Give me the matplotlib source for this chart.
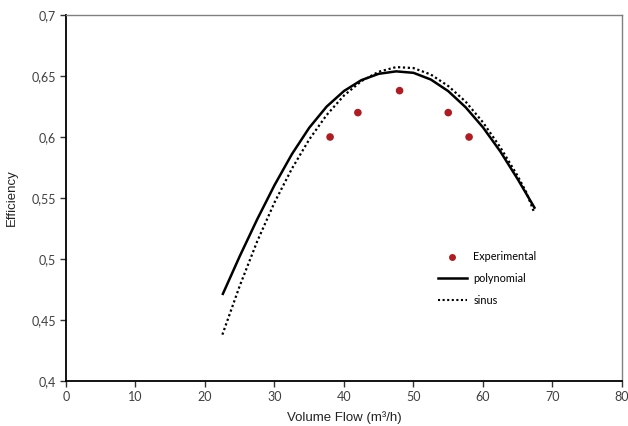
import matplotlib
matplotlib.use("Agg")
import matplotlib.pyplot as plt
from matplotlib.lines import Line2D
from matplotlib.ticker import FuncFormatter, MultipleLocator

# experimental points
exp_flow = [38.0, 42.0, 48.0, 55.0, 58.0]
exp_eff = [0.600, 0.620, 0.638, 0.620, 0.600]

# polynomial fit
poly_flow = [22.5, 25.0, 27.5, 30.0, 32.5, 35.0, 37.5, 40.0, 42.5, 45.0, 47.5,
             50.0, 52.5, 55.0, 57.5, 60.0, 62.5, 65.0, 67.5]
poly_eff = [0.4705, 0.5023, 0.5324, 0.5605, 0.5859, 0.6076, 0.6249, 0.6377, 0.6466, 0.6518, 0.6538,
            0.6526, 0.6471, 0.6376, 0.6244, 0.6079, 0.5881, 0.5654, 0.5412]

# sinus fit
sin_flow = [22.5, 25.0, 27.5, 30.0, 32.5, 35.0, 37.5, 40.0, 42.5, 45.0, 47.5,
            50.0, 52.5, 55.0, 57.5, 60.0, 62.5, 65.0, 66.25, 67.4]
sin_eff = [0.4380, 0.4780, 0.5143, 0.5463, 0.5740, 0.5980, 0.6180, 0.6340, 0.6458, 0.6535, 0.6573,
           0.6565, 0.6512, 0.6418, 0.6290, 0.6120, 0.5915, 0.5680, 0.5545, 0.5376]

fig = plt.figure(figsize=(6.28, 4.26), dpi=100)
ax = fig.add_axes([0.1051, 0.1056, 0.8853, 0.8592])

ax.plot(poly_flow, poly_eff, color="black", lw=1.8, solid_capstyle="butt", solid_joinstyle="round")
ax.plot(sin_flow, sin_eff, color="black", lw=1.6, linestyle=(0, (1, 1.2)))
ax.scatter(exp_flow, exp_eff, s=30, color="#b01c22", zorder=3, edgecolors="none")

ax.set_xlim(0, 80)
ax.set_ylim(0.4, 0.7)
ax.xaxis.set_major_locator(MultipleLocator(10))
ax.yaxis.set_major_locator(MultipleLocator(0.05))
ax.yaxis.set_major_formatter(FuncFormatter(lambda v, p: f"{v:g}".replace(".", ",")))

for s in ["left", "bottom"]:
    ax.spines[s].set_color("black")
    ax.spines[s].set_linewidth(1.3)
for s in ["top", "right"]:
    ax.spines[s].set_color("#808080")
    ax.spines[s].set_linewidth(1.0)

ax.tick_params(direction="out", length=4, width=1, color="#333333", labelcolor="#404040",
               labelsize=9, pad=3)
for lab in ax.get_xticklabels() + ax.get_yticklabels():
    lab.set_fontfamily("Lato")

ax.set_xlabel("Volume Flow (m³/h)", fontsize=9.5, family="Liberation Sans", labelpad=6,
              color="#222222")
ax.set_ylabel("Efficiency", fontsize=9.5, family="Liberation Sans", labelpad=10,
              color="#222222")

handles = [
    Line2D([], [], color="#b01c22", marker="o", markersize=5, lw=0, markeredgewidth=0),
    Line2D([], [], color="black", lw=1.8),
    Line2D([], [], color="black", lw=1.5, linestyle=(0, (1, 1.2))),
]
ax.legend(handles, ["Experimental", "polynomial", "sinus"], loc="center left",
          bbox_to_anchor=(0.6685, 0.2795), frameon=False, borderpad=0, borderaxespad=0,
          handlelength=2.7, handletextpad=0.6, labelspacing=1.0,
          prop={"family": "Lato", "size": 7.8})

fig.savefig("out.png", dpi=100)
